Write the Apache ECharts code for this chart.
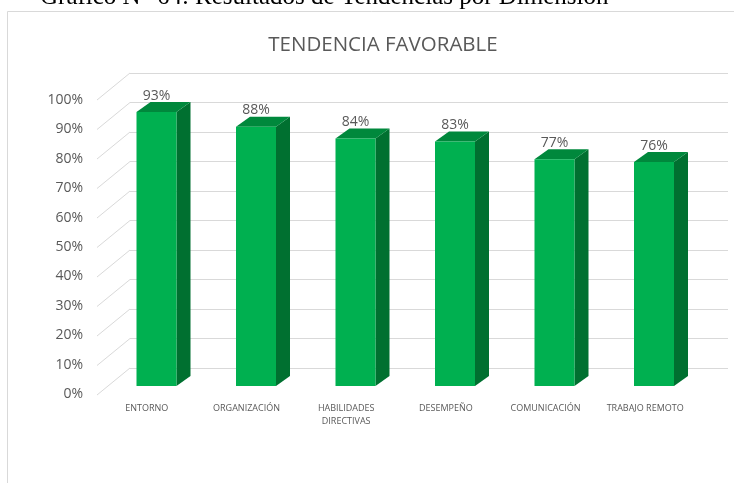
<!DOCTYPE html>
<html>
<head>
<meta charset="utf-8">
<script src="https://cdn.jsdelivr.net/npm/echarts@6/dist/echarts.min.js"></script>
<style>
  html, body { margin: 0; padding: 0; background: #fff; }
  #chart { width: 734px; height: 483px; }
</style>
</head>
<body>
<div id="chart"></div>
<script>
// data
const categories = ['ENTORNO', 'ORGANIZACIÓN', 'HABILIDADES\nDIRECTIVAS', 'DESEMPEÑO', 'COMUNICACIÓN', 'TRABAJO REMOTO'];
const favorable = [0.93, 0.88, 0.84, 0.83, 0.77, 0.76];
const yTicks = [0, 0.1, 0.2, 0.3, 0.4, 0.5, 0.6, 0.7, 0.8, 0.9, 1];

const chart = echarts.init(document.getElementById('chart'));

const pct = (v) => Math.round(v * 100) + '%';
const gridColor = '#d9d9d9';
const textColor = '#595959';

// fake 3d: depth offset of back wall and of the bars
const wallDx = 33, wallDy = -27;
const barW = 40, barDx = 14, barDy = -10;

const option = {
  backgroundColor: '#fff',
  animation: false,
  title: {
    text: 'TENDENCIA FAVORABLE',
    left: 378, top: 30, textAlign: 'center',
    textStyle: { fontFamily: 'Open Sans', fontSize: 20.5, fontWeight: 'normal', color: textColor }
  },
  graphic: [
    {
      type: 'rect', z: -10, silent: true,
      shape: { x: 7.5, y: 11.5, width: 760, height: 500 },
      style: { fill: 'none', stroke: gridColor, lineWidth: 1 }
    },
    {
      type: 'text', silent: true,
      x: 40, y: -15,
      style: {
        text: 'Gráfico N° 64: Resultados de Tendencias por Dimensión',
        font: '25px "Liberation Serif"', fill: '#000'
      }
    }
  ],
  grid: [
    // back wall
    { left: 130, right: 6, top: 73, bottom: 115 },
    // bars (front face)
    { left: 106.75, right: 30.25, top: 91.4, bottom: 97 },
    // front plane: labels
    { left: 97, right: 39, top: 100, bottom: 89 }
  ],
  xAxis: [
    { gridIndex: 0, type: 'category', data: categories, show: false },
    { gridIndex: 1, type: 'category', data: categories, show: false },
    {
      gridIndex: 2, type: 'category', data: categories,
      axisLine: { show: false }, axisTick: { show: false },
      axisLabel: {
        margin: 8, interval: 0, color: textColor,
        fontFamily: 'Open Sans', fontSize: 9, lineHeight: 13
      }
    }
  ],
  yAxis: [
    {
      gridIndex: 0, type: 'value', min: 0, max: 1, interval: 0.1,
      axisLine: { show: false }, axisTick: { show: false }, axisLabel: { show: false },
      splitLine: { lineStyle: { color: gridColor, width: 1 } }
    },
    { gridIndex: 1, type: 'value', min: 0, max: 1, show: false },
    {
      gridIndex: 2, type: 'value', min: 0, max: 1, interval: 0.1,
      axisLine: { show: false }, axisTick: { show: false }, splitLine: { show: false },
      axisLabel: {
        margin: 14, color: textColor, fontFamily: 'Open Sans', fontSize: 14,
        formatter: pct
      }
    }
  ],
  series: [
    {
      // side wall diagonals
      type: 'custom', xAxisIndex: 0, yAxisIndex: 0, silent: true,
      data: yTicks.map((t) => [0, t]),
      renderItem: (params, api) => {
        const y = api.coord([0, api.value(1)])[1];
        const x = params.coordSys.x;
        return {
          type: 'line',
          shape: { x1: x, y1: y, x2: x - wallDx, y2: y - wallDy },
          style: { stroke: gridColor, lineWidth: 1 }
        };
      }
    },
    {
      type: 'custom', xAxisIndex: 1, yAxisIndex: 1, silent: true,
      data: favorable.map((v, i) => [i, v]),
      renderItem: (params, api) => {
        const top = api.coord([api.value(0), api.value(1)]);
        const base = api.coord([api.value(0), 0]);
        const x0 = top[0] - barW / 2, x1 = top[0] + barW / 2;
        const yt = top[1], yb = base[1];
        return {
          type: 'group',
          children: [
            {
              type: 'polygon',
              shape: { points: [[x1, yt], [x1 + barDx, yt + barDy], [x1 + barDx, yb + barDy], [x1, yb]] },
              style: { fill: '#007030' }
            },
            {
              type: 'polygon',
              shape: { points: [[x0, yt], [x0 + barDx, yt + barDy], [x1 + barDx, yt + barDy], [x1, yt]] },
              style: { fill: '#00883c' }
            },
            {
              type: 'rect',
              shape: { x: x0, y: yt, width: barW, height: yb - yt },
              style: { fill: '#00b050' }
            },
            {
              type: 'text',
              x: top[0], y: yt - 16.5,
              style: {
                text: pct(api.value(1)), fill: textColor,
                font: '14px "Open Sans"', align: 'center', verticalAlign: 'middle'
              }
            }
          ]
        };
      }
    }
  ]
};

chart.setOption(option);
</script>
</body>
</html>
